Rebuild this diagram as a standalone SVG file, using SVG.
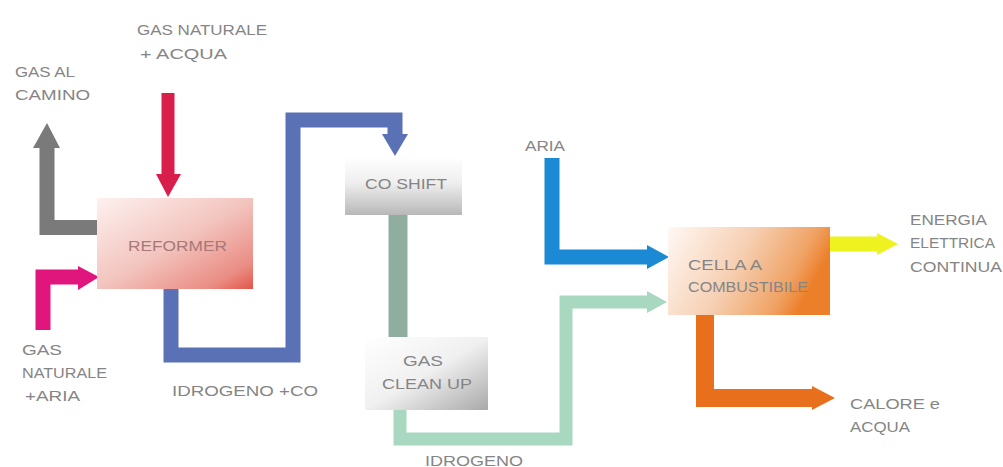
<svg xmlns="http://www.w3.org/2000/svg" width="1003" height="467" viewBox="0 0 1003 467">
<style>
  text { font-family: "Liberation Sans", Arial, sans-serif; font-size: 15px; fill: #858585; }
  .c { fill: none; stroke-linejoin: miter; stroke-linecap: butt; }
  .box { stroke: none; }
</style>
<defs>
  <linearGradient id="gRef" x1="0" y1="0" x2="1" y2="1">
    <stop offset="0" stop-color="#fdf1ef"/>
    <stop offset="0.5" stop-color="#f3c4be"/>
    <stop offset="0.85" stop-color="#ea8d84"/>
    <stop offset="1" stop-color="#e2564a"/>
  </linearGradient>
  <linearGradient id="gShift" x1="0" y1="0" x2="0" y2="1">
    <stop offset="0" stop-color="#ffffff"/>
    <stop offset="0.45" stop-color="#eeeeee"/>
    <stop offset="1" stop-color="#b8b8b8"/>
  </linearGradient>
  <linearGradient id="gClean" x1="0" y1="0" x2="1" y2="1">
    <stop offset="0" stop-color="#ffffff"/>
    <stop offset="0.5" stop-color="#f0f0f0"/>
    <stop offset="1" stop-color="#a9a9a9"/>
  </linearGradient>
  <linearGradient id="gCell" x1="0" y1="0" x2="1" y2="0.3">
    <stop offset="0" stop-color="#fff8f4"/>
    <stop offset="0.5" stop-color="#f6cfb2"/>
    <stop offset="0.85" stop-color="#f0a365"/>
    <stop offset="1" stop-color="#ec7f2a"/>
  </linearGradient>
</defs>
<rect width="1003" height="467" fill="#ffffff"/>

<g id="connectors">
  <!-- gas al camino -->
  <path class="c" d="M97,227.5 H47 V146" stroke="#7a7a7a" stroke-width="15"/>
  <polygon points="33,148 60,148 47,123" fill="#7a7a7a"/>
  <!-- gas naturale + acqua -->
  <path class="c" d="M168,93 V176" stroke="#d81f4c" stroke-width="13"/>
  <polygon points="156,174 181,174 168,197" fill="#d81f4c"/>
  <!-- gas naturale + aria -->
  <path class="c" d="M43,330 V277 H80" stroke="#e0167c" stroke-width="15"/>
  <polygon points="78,266 78,290 99,277" fill="#e0167c"/>
  <!-- idrogeno + co -->
  <path class="c" d="M171,289 V355 H293 V120 H395 V135" stroke="#5b71b6" stroke-width="15"/>
  <polygon points="382,134 408,134 395,156" fill="#5b71b6"/>
  <!-- co shift to gas clean up -->
  <path class="c" d="M398,215 V338" stroke="#90ae9f" stroke-width="19"/>
  <!-- idrogeno -->
  <path class="c" d="M400,410 V439 H566 V302 H650" stroke="#a9d8c1" stroke-width="13"/>
  <polygon points="647,291 647,313 667,302" fill="#a9d8c1"/>
  <!-- aria -->
  <path class="c" d="M552,158 V257 H650" stroke="#1b89d3" stroke-width="15"/>
  <polygon points="647,245 647,269 669,257" fill="#1b89d3"/>
  <!-- energia elettrica -->
  <path class="c" d="M830,244 H879" stroke="#eef21e" stroke-width="15"/>
  <polygon points="877,233 877,255 898,244" fill="#eef21e"/>
  <!-- calore e acqua -->
  <path class="c" d="M705,315 V398 H815" stroke="#e8701c" stroke-width="18"/>
  <polygon points="812,386 812,410 835,398" fill="#e8701c"/>
</g>

<g id="reformer">
  <rect class="box" x="97" y="198" width="156" height="91" fill="url(#gRef)"/>
  <text x="128" y="251" textLength="99" lengthAdjust="spacingAndGlyphs" style="fill:#a87878">REFORMER</text>
</g>
<g id="co-shift">
  <rect class="box" x="345" y="157" width="117" height="58" fill="url(#gShift)"/>
  <text x="365" y="189" textLength="82" lengthAdjust="spacingAndGlyphs">CO SHIFT</text>
</g>
<g id="gas-clean-up">
  <rect class="box" x="365" y="337" width="123" height="73" fill="url(#gClean)"/>
  <text x="403" y="366" textLength="40" lengthAdjust="spacingAndGlyphs">GAS</text>
  <text x="382" y="389" textLength="90" lengthAdjust="spacingAndGlyphs">CLEAN UP</text>
</g>
<g id="cella">
  <rect class="box" x="668" y="227" width="162" height="88" fill="url(#gCell)"/>
  <text x="688" y="270" textLength="74" lengthAdjust="spacingAndGlyphs">CELLA A</text>
  <text x="688" y="292" textLength="120" lengthAdjust="spacingAndGlyphs">COMBUSTIBILE</text>
</g>

<g id="label-gas-acqua">
  <text x="137" y="35" textLength="130" lengthAdjust="spacingAndGlyphs">GAS NATURALE</text>
  <text x="140" y="59" textLength="87" lengthAdjust="spacingAndGlyphs">+ ACQUA</text>
</g>
<g id="label-camino">
  <text x="15" y="77" textLength="60" lengthAdjust="spacingAndGlyphs">GAS AL</text>
  <text x="15" y="100" textLength="75" lengthAdjust="spacingAndGlyphs">CAMINO</text>
</g>
<g id="label-gas-aria">
  <text x="22" y="355" textLength="40" lengthAdjust="spacingAndGlyphs">GAS</text>
  <text x="22" y="378" textLength="85" lengthAdjust="spacingAndGlyphs">NATURALE</text>
  <text x="25" y="401" textLength="55" lengthAdjust="spacingAndGlyphs">+ARIA</text>
</g>
<g id="label-idrogeno-co">
  <text x="172" y="396" textLength="146" lengthAdjust="spacingAndGlyphs">IDROGENO +CO</text>
</g>
<g id="label-idrogeno">
  <text x="425" y="466" textLength="98" lengthAdjust="spacingAndGlyphs">IDROGENO</text>
</g>
<g id="label-aria">
  <text x="525" y="151" textLength="40" lengthAdjust="spacingAndGlyphs">ARIA</text>
</g>
<g id="label-energia">
  <text x="910" y="225" textLength="77" lengthAdjust="spacingAndGlyphs">ENERGIA</text>
  <text x="910" y="248" textLength="85" lengthAdjust="spacingAndGlyphs">ELETTRICA</text>
  <text x="910" y="272" textLength="92" lengthAdjust="spacingAndGlyphs">CONTINUA</text>
</g>
<g id="label-calore">
  <text x="850" y="409" textLength="90" lengthAdjust="spacingAndGlyphs">CALORE e</text>
  <text x="850" y="432" textLength="60" lengthAdjust="spacingAndGlyphs">ACQUA</text>
</g>
</svg>
